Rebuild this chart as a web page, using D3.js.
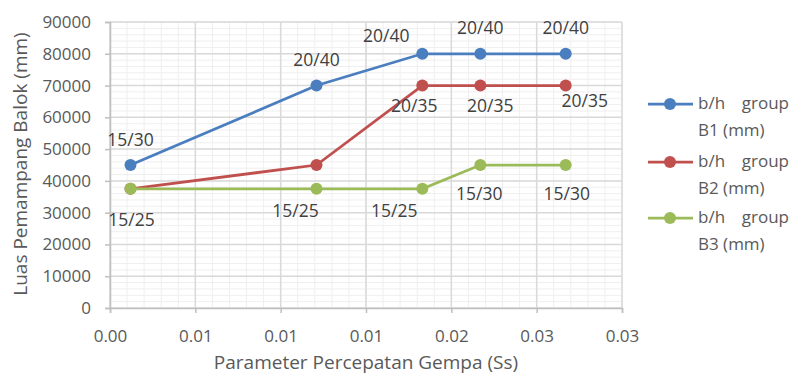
<!DOCTYPE html>
<html>
<head>
<meta charset="utf-8">
<script src="https://cdn.jsdelivr.net/npm/d3@7"></script>
<style>
  html, body { margin: 0; padding: 0; background: #fff; }
  svg { display: block; font-family: "Open Sans", sans-serif; }
</style>
</head>
<body>
<svg id="chart" width="794" height="376"></svg>
<script>
// ---- data ----
const xValues = [0.0012, 0.0121, 0.0183, 0.0217, 0.0267];
const seriesNames = ["b/h group B1 (mm)", "b/h group B2 (mm)", "b/h group B3 (mm)"];
const valuesB1 = [45000, 70000, 80000, 80000, 80000];
const valuesB2 = [37500, 45000, 70000, 70000, 70000];
const valuesB3 = [37500, 37500, 37500, 45000, 45000];
const labelsB1 = ["15/30", "20/40", "20/40", "20/40", "20/40"];
const labelsB2 = ["", "", "20/35", "20/35", "20/35"];
const labelsB3 = ["15/25", "15/25", "15/25", "15/30", "15/30"];
const xTicks = [0, 0.005, 0.01, 0.015, 0.02, 0.025, 0.03];
const yTicks = [0, 10000, 20000, 30000, 40000, 50000, 60000, 70000, 80000, 90000];

// ---- layout / style (not data) ----
const colors = ["#4A7EBF", "#C0504D", "#9BBB59"];
const labelOffsets = [
  [[0, -24], [0, -24], [-36, -16], [0, -24], [0, -24]],
  [[0, 0], [0, 0], [-8, 22], [10, 22], [19, 17]],
  [[1, 32], [-21, 23], [-28, 23], [-1, 30], [1, 30]]
];

const svg = d3.select("#chart");
const margin = { left: 110, right: 172, top: 22, bottom: 68 };
const W = 794, H = 376;
const x = d3.scaleLinear().domain([0, 0.03]).range([margin.left, W - margin.right]);
const y = d3.scaleLinear().domain([0, 90000]).range([H - margin.bottom, margin.top]);

const textColor = "#595959";

// minor gridlines
const g = svg.append("g");
g.selectAll("line.vminor").data(d3.range(0, 0.0300001, 0.001)).enter().append("line")
  .attr("x1", d => x(d)).attr("x2", d => x(d))
  .attr("y1", y(0)).attr("y2", y(90000))
  .attr("stroke", "#efefef").attr("stroke-width", 1);
g.selectAll("line.hminor").data(d3.range(0, 90001, 2000)).enter().append("line")
  .attr("x1", x(0)).attr("x2", x(0.03))
  .attr("y1", d => y(d)).attr("y2", d => y(d))
  .attr("stroke", "#efefef").attr("stroke-width", 1);
// major gridlines
g.selectAll("line.vmajor").data(xTicks).enter().append("line")
  .attr("x1", d => x(d)).attr("x2", d => x(d))
  .attr("y1", y(0)).attr("y2", y(90000))
  .attr("stroke", "#d9d9d9").attr("stroke-width", 1.5);
g.selectAll("line.hmajor").data(yTicks).enter().append("line")
  .attr("x1", x(0)).attr("x2", x(0.03))
  .attr("y1", d => y(d)).attr("y2", d => y(d))
  .attr("stroke", "#d9d9d9").attr("stroke-width", 1.5);

// axes
const xAxis = d3.axisBottom(x).tickValues(xTicks).tickFormat(d3.format(".2f")).tickSizeOuter(0).tickSize(5).tickPadding(17);
const yAxis = d3.axisLeft(y).tickValues(yTicks).tickFormat(d => d3.format("d")(d)).tickSizeOuter(0).tickSize(5).tickPadding(14);
const gx = svg.append("g").attr("transform", `translate(0,${y(0)})`).call(xAxis);
const gy = svg.append("g").attr("transform", `translate(${x(0)},0)`).call(yAxis);
[gx, gy].forEach(a => {
  a.selectAll("path").attr("stroke", "#bfbfbf").attr("stroke-width", 1.5);
  a.selectAll("line").attr("stroke", "#bfbfbf").attr("stroke-width", 1.5);
  a.selectAll("text").attr("fill", textColor).style("font-size", "17px").style("font-family", "'Open Sans', sans-serif");
});

// axis titles
svg.append("text").attr("x", (x(0) + x(0.03)) / 2).attr("y", 364)
  .attr("text-anchor", "middle").attr("dominant-baseline", "middle")
  .attr("fill", textColor).style("font-size", "19px")
  .text("Parameter Percepatan Gempa (Ss)");
svg.append("text").attr("transform", `translate(22,164) rotate(-90)`)
  .attr("text-anchor", "middle").attr("dominant-baseline", "middle")
  .attr("fill", textColor).style("font-size", "19px")
  .text("Luas Pemampang Balok (mm)");

// series
const allValues = [valuesB1, valuesB2, valuesB3];
const allLabels = [labelsB1, labelsB2, labelsB3];
const line = d3.line().x(d => x(d[0])).y(d => y(d[1]));

allValues.forEach((vals, si) => {
  const pts = xValues.map((xv, i) => [xv, vals[i]]);
  const sg = svg.append("g");
  sg.append("path").datum(pts).attr("d", line)
    .attr("fill", "none").attr("stroke", colors[si]).attr("stroke-width", 2.75);
  sg.selectAll("circle").data(pts).enter().append("circle")
    .attr("cx", d => x(d[0])).attr("cy", d => y(d[1])).attr("r", 6)
    .attr("fill", colors[si]);
});

// labels
allValues.forEach((vals, si) => {
  xValues.forEach((xv, i) => {
    const t = allLabels[si][i];
    if (!t) return;
    const off = labelOffsets[si][i];
    svg.append("text")
      .attr("x", x(xv) + off[0]).attr("y", y(vals[i]) + off[1])
      .attr("text-anchor", "middle").attr("dominant-baseline", "middle")
      .attr("fill", "#404040").style("font-size", "17.5px")
      .text(t);
  });
});

// legend
const legendRows = [104, 162, 218];
const lg = svg.append("g");
seriesNames.forEach((name, si) => {
  const ly = legendRows[si];
  lg.append("line").attr("x1", 648).attr("x2", 693).attr("y1", ly).attr("y2", ly)
    .attr("stroke", colors[si]).attr("stroke-width", 2.75);
  lg.append("circle").attr("cx", 670).attr("cy", ly).attr("r", 6).attr("fill", colors[si]);
  const parts = name.split(" ");
  lg.append("text").attr("x", 698).attr("y", ly).attr("dominant-baseline", "middle")
    .attr("fill", textColor).style("font-size", "17px").text(parts[0]);
  lg.append("text").attr("x", 789).attr("y", ly).attr("text-anchor", "end")
    .attr("dominant-baseline", "middle").attr("fill", textColor).style("font-size", "17px")
    .text(parts[1]);
  lg.append("text").attr("x", 698).attr("y", ly + 27).attr("dominant-baseline", "middle")
    .attr("fill", textColor).style("font-size", "17px")
    .text(parts.slice(2).join(" "));
});
</script>
</body>
</html>
